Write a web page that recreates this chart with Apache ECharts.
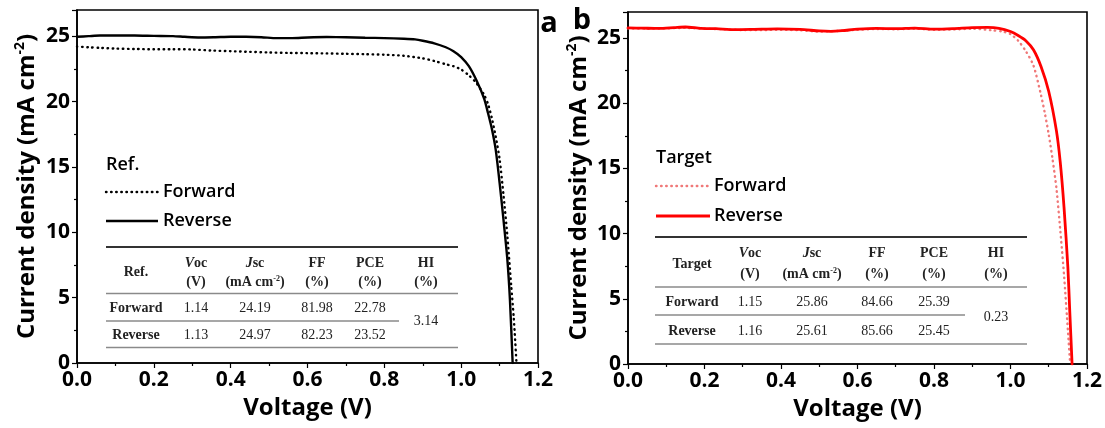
<!DOCTYPE html>
<html><head><meta charset="utf-8">
<script src="https://cdn.jsdelivr.net/npm/echarts@6/dist/echarts.min.js"></script>
<style>html,body{margin:0;padding:0;background:#fff}#c{width:1105px;height:428px}</style>
</head><body><div id="c"></div>
<script>
// ---------------- DATA ----------------
// Panel a (Ref.)
const aRevV = [0, 0.03, 0.06, 0.1, 0.15, 0.2, 0.25, 0.28, 0.32, 0.36, 0.4, 0.44, 0.48, 0.52, 0.56, 0.6, 0.65, 0.7, 0.75, 0.8, 0.85, 0.88, 0.9, 0.93, 0.96, 0.98, 1.0, 1.02, 1.04, 1.06, 1.07, 1.08, 1.09, 1.10, 1.11, 1.12, 1.127, 1.134];
const aRevJ = [24.95, 25.0, 25.05, 25.05, 25.05, 25.02, 25.0, 24.95, 24.9, 24.92, 24.95, 24.95, 24.92, 24.85, 24.85, 24.9, 24.93, 24.92, 24.88, 24.85, 24.8, 24.75, 24.65, 24.45, 24.15, 23.85, 23.4, 22.7, 21.6, 20.2, 19.1, 17.9, 16.3, 13.8, 11.0, 8.0, 4.8, 0];
const aFwdV = [0, 0.03, 0.06, 0.1, 0.15, 0.2, 0.25, 0.3, 0.35, 0.4, 0.45, 0.5, 0.55, 0.6, 0.65, 0.7, 0.75, 0.8, 0.85, 0.9, 0.93, 0.96, 0.98, 1.0, 1.02, 1.04, 1.06, 1.07, 1.08, 1.09, 1.10, 1.11, 1.12, 1.13, 1.137, 1.144];
const aFwdJ = [24.2, 24.15, 24.1, 24.05, 24.02, 24.0, 24.0, 23.98, 23.9, 23.85, 23.8, 23.75, 23.72, 23.7, 23.68, 23.65, 23.62, 23.58, 23.5, 23.3, 23.1, 22.85, 22.7, 22.45, 22.0, 21.4, 20.5, 19.8, 18.7, 17.3, 15.6, 12.9, 9.8, 6.0, 3.4, 0];
// Panel b (Target)
const bRevV = [0, 0.04, 0.08, 0.12, 0.15, 0.19, 0.23, 0.28, 0.33, 0.39, 0.45, 0.5, 0.53, 0.56, 0.6, 0.65, 0.7, 0.75, 0.8, 0.85, 0.9, 0.94, 0.97, 1.0, 1.02, 1.04, 1.06, 1.08, 1.10, 1.12, 1.13, 1.14, 1.15, 1.155, 1.161];
const bRevJ = [25.78, 25.76, 25.74, 25.8, 25.85, 25.75, 25.72, 25.65, 25.67, 25.7, 25.66, 25.55, 25.52, 25.57, 25.68, 25.74, 25.72, 25.77, 25.68, 25.72, 25.8, 25.82, 25.75, 25.5, 25.2, 24.8, 24.1, 22.8, 20.9, 17.9, 15.5, 12.0, 7.4, 4.0, 0];
const bFwdV = [0, 0.05, 0.1, 0.15, 0.2, 0.25, 0.3, 0.35, 0.4, 0.45, 0.5, 0.55, 0.6, 0.65, 0.7, 0.75, 0.8, 0.85, 0.9, 0.95, 0.98, 1.0, 1.02, 1.04, 1.06, 1.08, 1.09, 1.10, 1.11, 1.12, 1.13, 1.14, 1.15, 1.156];
const bFwdJ = [25.75, 25.72, 25.75, 25.78, 25.72, 25.68, 25.62, 25.62, 25.64, 25.6, 25.5, 25.55, 25.63, 25.7, 25.68, 25.72, 25.64, 25.66, 25.72, 25.6, 25.5, 25.3, 24.8, 24.0, 22.9, 20.6, 19.2, 17.6, 15.7, 13.5, 10.3, 6.8, 2.6, 0];

// Tick labels
const xTickLabels = ['0.0', '0.2', '0.4', '0.6', '0.8', '1.0', '1.2'];
const yTickLabels = ['0', '5', '10', '15', '20', '25'];

// Table contents
const tblRowNames = ['Forward', 'Reverse'];
const tblAVoc = ['1.14', '1.13'];
const tblAJsc = ['24.19', '24.97'];
const tblAFF = ['81.98', '82.23'];
const tblAPCE = ['22.78', '23.52'];
const tblAHI = '3.14';
const tblBVoc = ['1.15', '1.16'];
const tblBJsc = ['25.86', '25.61'];
const tblBFF = ['84.66', '85.66'];
const tblBPCE = ['25.39', '25.45'];
const tblBHI = '0.23';
const legendTitleA = 'Ref.';
const legendTitleB = 'Target';
const seriesNames = ['Forward', 'Reverse'];
const xName = 'Voltage (V)';

// ---------------- CHART ----------------
const pair = (v, j) => v.map((x, i) => [x, j[i]]);
const chart = echarts.init(document.getElementById('c'), null, {renderer: 'canvas'});

const tickFont = {fontFamily: 'Open Sans', fontWeight: 'bold', fontSize: 21, color: '#000'};
function xAxis(gi) {
  return {
    type: 'value', gridIndex: gi, min: 0, max: 1.2, interval: 0.2,
    name: xName, nameLocation: 'middle', nameGap: 31,
    nameTextStyle: {fontFamily: 'Open Sans', fontWeight: 'bold', fontSize: 24, color: '#000'},
    axisLine: {show: true, lineStyle: {color: '#000', width: 1.6}},
    axisTick: {show: true, length: 5, lineStyle: {color: '#000', width: 1.2}},
    minorTick: {show: true, splitNumber: 2, length: 3, lineStyle: {color: '#000', width: 1.2}},
    splitLine: {show: false},
    axisLabel: Object.assign({margin: 7, formatter: v => xTickLabels[Math.round(v / 0.2)] || ''}, tickFont)
  };
}
function yAxis(gi, gap) {
  return {
    type: 'value', gridIndex: gi, min: 0, max: 27, interval: 5,
    name: '{t|Current density (mA cm}{s|-2}{t|)}', nameLocation: 'middle', nameGap: gap,
    nameTextStyle: {rich: {
      t: {fontFamily: 'Open Sans', fontWeight: 'bold', fontSize: 24, color: '#000', lineHeight: 29},
      s: {fontFamily: 'Open Sans', fontWeight: 'bold', fontSize: 14, color: '#000', lineHeight: 29, verticalAlign: 'top', padding: [0, 0, 11, 0]}
    }},
    axisLine: {show: true, lineStyle: {color: '#000', width: 1.6}},
    axisTick: {show: true, length: 5, lineStyle: {color: '#000', width: 1.2}},
    minorTick: {show: true, splitNumber: 2, length: 3, lineStyle: {color: '#000', width: 1.2}},
    splitLine: {show: false},
    axisLabel: Object.assign({margin: 7, showMaxLabel: false, formatter: v => (v % 5 === 0 ? yTickLabels[v / 5] : '')}, tickFont)
  };
}

function lineSeries(name, gi, data, color, width, dotted) {
  return {
    type: 'line', name: name, xAxisIndex: gi, yAxisIndex: gi, data: data,
    showSymbol: false, symbol: 'none', smooth: 0.25, clip: true,
    lineStyle: {color: color, width: width, type: dotted ? [0.5, 4.6] : 'solid', cap: 'round'},
    silent: true, animation: false, z: dotted ? 2 : 3
  };
}

// ---- graphic helpers (legend + table) ----
const serif = '"Liberation Serif", "Times New Roman", serif';
function txt(x, y, text, opts) {
  opts = opts || {};
  return {type: 'text', x: x, y: y, silent: true, z: 100, style: Object.assign({
    text: text, fill: '#222', fontFamily: serif, fontSize: 14, fontWeight: 'normal',
    align: 'center', verticalAlign: 'middle', textAlign: 'center', textVerticalAlign: 'middle'
  }, opts)};
}
function hline(x1, x2, y, w, c) {
  return {type: 'line', silent: true, z: 100, shape: {x1: x1, y1: y, x2: x2, y2: y}, style: {stroke: c, lineWidth: w}};
}
const richHead = {
  b: {fontFamily: serif, fontWeight: 'bold', fontSize: 14, fill: '#222', color: '#222'},
  i: {fontFamily: serif, fontWeight: 'bold', fontStyle: 'italic', fontSize: 14, fill: '#222', color: '#222'},
  s: {fontFamily: serif, fontWeight: 'bold', fontSize: 8, fill: '#222', color: '#222', verticalAlign: 'top', padding: [0, 0, 6, 0]}
};
function table(L, title, voc, jsc, ff, pce, hi) {
  const els = [];
  const c = L.colX;
  els.push(hline(L.x0, L.x1, L.yTop, 2, '#333'));
  els.push(hline(L.x0, L.x1, L.yHead, 1.5, '#8a8a8a'));
  els.push(hline(L.x0, L.midEnd, L.yMid, 1.5, '#8a8a8a'));
  els.push(hline(L.x0, L.x1, L.yBot, 1.5, '#8a8a8a'));
  els.push(txt(c[0], L.yLabel, title, {fontWeight: 'bold'}));
  els.push(txt(c[1], L.yH1, '{i|V}{b|oc}', {rich: richHead}));
  els.push(txt(c[1], L.yH2, '(V)', {fontWeight: 'bold'}));
  els.push(txt(c[2], L.yH1, '{i|J}{b|sc}', {rich: richHead}));
  els.push(txt(c[2], L.yH2, '{b|(mA cm}{s|-2}{b|)}', {rich: richHead}));
  els.push(txt(c[3], L.yH1, 'FF', {fontWeight: 'bold'}));
  els.push(txt(c[3], L.yH2, '(%)', {fontWeight: 'bold'}));
  els.push(txt(c[4], L.yH1, 'PCE', {fontWeight: 'bold'}));
  els.push(txt(c[4], L.yH2, '(%)', {fontWeight: 'bold'}));
  els.push(txt(c[5], L.yH1, 'HI', {fontWeight: 'bold'}));
  els.push(txt(c[5], L.yH2, '(%)', {fontWeight: 'bold'}));
  const rowsY = [L.yR1, L.yR2];
  for (let r = 0; r < 2; r++) {
    els.push(txt(c[0], rowsY[r], tblRowNames[r], {fontWeight: 'bold'}));
    els.push(txt(c[1], rowsY[r], voc[r]));
    els.push(txt(c[2], rowsY[r], jsc[r]));
    els.push(txt(c[3], rowsY[r], ff[r]));
    els.push(txt(c[4], rowsY[r], pce[r]));
  }
  els.push(txt(c[5], L.yHI, hi));
  return els;
}
function legend(L, title, fwdColor, revColor, revWidth) {
  const f = {fontFamily: 'Open Sans', fontWeight: 600, fontSize: 18, fill: '#000', align: 'left', textAlign: 'left'};
  return [
    txt(L.x, L.yT, title, f),
    {type: 'line', silent: true, z: 100, shape: {x1: L.x, y1: L.yF, x2: L.x2, y2: L.yF}, style: {stroke: fwdColor, lineWidth: 2.4, lineDash: [0.5, 4.6], lineCap: 'round'}},
    txt(L.tx, L.yF, seriesNames[0], f),
    {type: 'line', silent: true, z: 100, shape: {x1: L.x, y1: L.yR, x2: L.x2, y2: L.yR}, style: {stroke: revColor, lineWidth: revWidth}},
    txt(L.tx, L.yR, seriesNames[1], f)
  ];
}

const tblLayoutA = {x0: 106, x1: 458, colX: [136, 196, 255, 317, 370, 426], yTop: 247, yH1: 263, yH2: 282, yHead: 293.5, yR1: 308.5, yMid: 321, midEnd: 399, yR2: 335, yBot: 347.5, yHI: 321.5, yLabel: 272.5};
const tblLayoutB = {x0: 655, x1: 1027, colX: [692, 750, 812, 877, 934, 996], yTop: 237, yH1: 253.5, yH2: 274, yHead: 287, yR1: 302.5, yMid: 315, midEnd: 965, yR2: 331.5, yBot: 344, yHI: 317.5, yLabel: 264};
const legLayoutA = {x: 106, x2: 158, tx: 163, yT: 165, yF: 192, yR: 221};
const legLayoutB = {x: 656, x2: 710, tx: 714, yT: 158, yF: 186, yR: 216};

const graphics = []
  .concat(legend(legLayoutA, legendTitleA, '#000', '#000', 2.6))
  .concat(legend(legLayoutB, legendTitleB, '#f07878', '#ff0000', 2.8))
  .concat(table(tblLayoutA, legendTitleA, tblAVoc, tblAJsc, tblAFF, tblAPCE, tblAHI))
  .concat(table(tblLayoutB, legendTitleB, tblBVoc, tblBJsc, tblBFF, tblBPCE, tblBHI))
  .concat([
    txt(549, 24, 'a', {fontFamily: 'Open Sans', fontWeight: 'bold', fontSize: 29, fill: '#000'}),
    txt(582, 21, 'b', {fontFamily: 'Open Sans', fontWeight: 'bold', fontSize: 29, fill: '#000'})
  ]);

chart.setOption({
  animation: false,
  backgroundColor: '#fff',
  grid: [
    {left: 77, top: 10, width: 461, height: 353, show: true, borderColor: '#000', borderWidth: 1.6, backgroundColor: 'transparent'},
    {left: 628, top: 12, width: 461, height: 352, show: true, borderColor: '#000', borderWidth: 1.6, backgroundColor: 'transparent'}
  ],
  xAxis: [xAxis(0), xAxis(1)],
  yAxis: [yAxis(0, 35), yAxis(1, 34)],
  series: [
    lineSeries(seriesNames[0], 0, pair(aFwdV, aFwdJ), '#000', 2.4, true),
    lineSeries(seriesNames[1], 0, pair(aRevV, aRevJ), '#000', 2.4, false),
    lineSeries(seriesNames[0], 1, pair(bFwdV, bFwdJ), '#f07878', 2.4, true),
    lineSeries(seriesNames[1], 1, pair(bRevV, bRevJ), '#ff0000', 2.8, false)
  ],
  graphic: graphics
});
</script>
</body></html>
